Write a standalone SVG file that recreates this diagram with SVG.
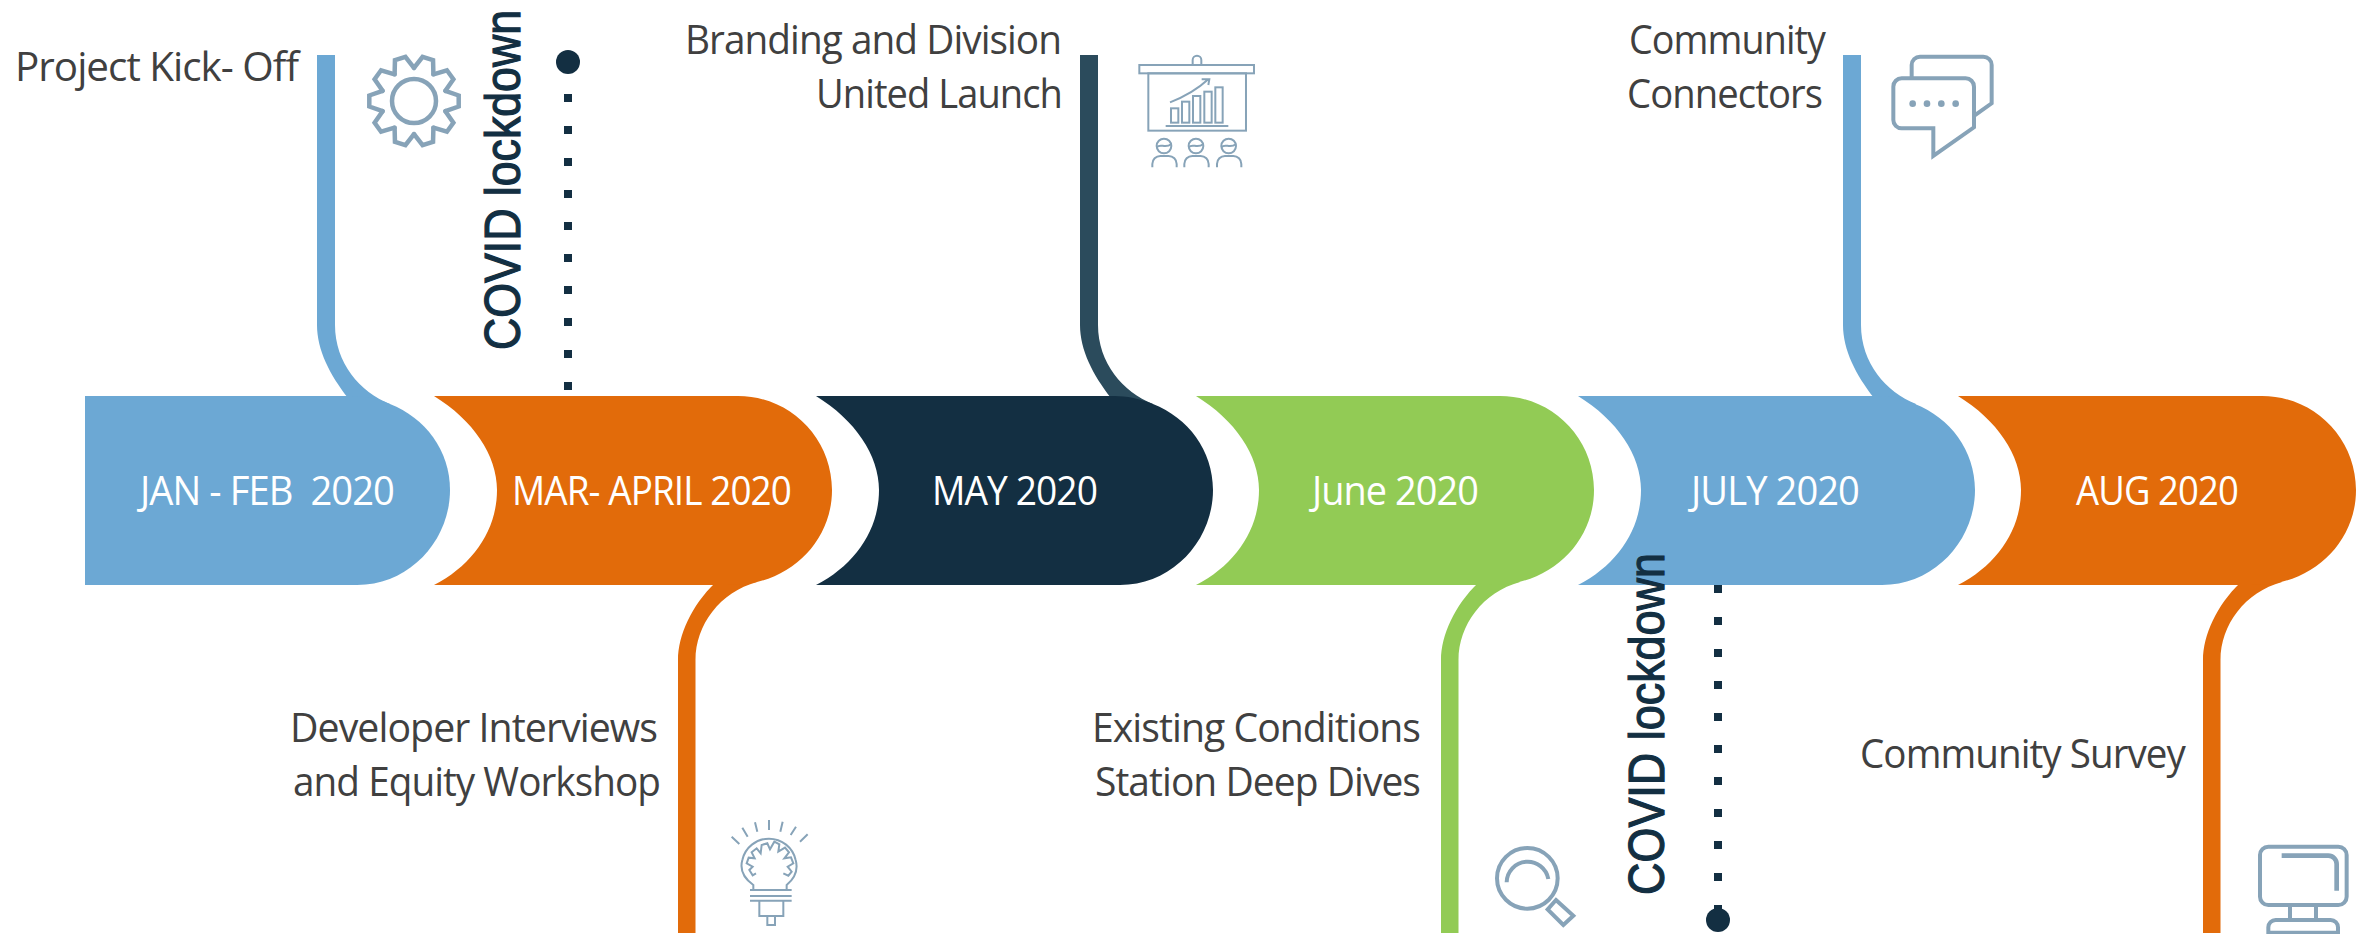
<svg xmlns="http://www.w3.org/2000/svg" width="2369" height="934" viewBox="0 0 2369 934">
<style>
.lbl{font-family:"Open Sans","Liberation Sans",sans-serif;font-size:41px;fill:#404040;white-space:pre;letter-spacing:-1px}
.date{font-family:"Open Sans","Liberation Sans",sans-serif;font-size:41px;fill:#fff;white-space:pre;letter-spacing:-1px}
.cov{font-family:"Liberation Sans",Arial,sans-serif;font-size:50px;fill:#132f42;stroke:#132f42;stroke-width:1.2}
.blue{fill:#6ca8d4}.orange{fill:#e26b0a}.navy{fill:#132f42}.green{fill:#92cb55}.slate{fill:#2b4b5c}
.ic{fill:none;stroke:#87a3b8;stroke-linejoin:miter}
.dots{fill:none;stroke:#132f42;stroke-width:8;stroke-dasharray:8 24}
</style>
<defs>
<path id="stem" d="M348,398C330,375 317,350 317,325V55H335V325C335,363 360,392 390,404L380,420Z"/>
<path id="stemb" d="M715,583C692,605 678,635 678,660V933H695.5V660C695.5,625 720,592 757,582L740,570Z"/>
<path id="topbody" d="M53,396C92,420 116,455 116,490C116,530 92,565 53,585H357C410,585 450,540 450,490C450,450 425,418 390,404C370,396 358,396 348,396Z"/>
<path id="botbody" d="M434,396C473,420 497,455 497,490C497,530 473,565 434,585H716C730,585 742,585 757,582C800,572 832,535 832,490C832,438 790,396 738,396Z"/>
<polyline id="tooth" points="31.4,-10.2 44.7,-5.5 44.7,5.5 31.4,10.2" stroke-linecap="round"/>
</defs>
<g id="connectors">
<use href="#stem" class="blue"/>
<use href="#stem" class="slate" x="763"/>
<use href="#stem" class="blue" x="1526"/>
<use href="#stemb" class="orange"/>
<use href="#stemb" class="green" x="763"/>
<use href="#stemb" class="orange" x="1525"/>
<path class="dots" d="M568,94V394"/>
<path class="dots" d="M1718,585V912"/>
</g>
<g id="node-jan-feb">
<path class="blue" d="M85,396H348C358,396 370,396 390,404C425,418 450,450 450,490C450,540 410,585 357,585H85Z"/>
<text class="date" x="140" y="505" textLength="254" lengthAdjust="spacingAndGlyphs">JAN - FEB  2020</text>
</g>
<g id="node-mar-april">
<use href="#botbody" class="orange"/>
<text class="date" x="512" y="505" textLength="279" lengthAdjust="spacingAndGlyphs">MAR- APRIL 2020</text>
</g>
<g id="node-may">
<use href="#topbody" class="navy" x="763"/>
<text class="date" x="932" y="505" textLength="165" lengthAdjust="spacingAndGlyphs">MAY 2020</text>
</g>
<g id="node-june">
<use href="#botbody" class="green" x="762"/>
<text class="date" x="1312" y="505" textLength="166" lengthAdjust="spacingAndGlyphs">June 2020</text>
</g>
<g id="node-july">
<use href="#topbody" class="blue" x="1525"/>
<text class="date" x="1691" y="505" textLength="168" lengthAdjust="spacingAndGlyphs">JULY 2020</text>
</g>
<g id="node-aug">
<use href="#botbody" class="orange" x="1524"/>
<text class="date" x="2076" y="505" textLength="162" lengthAdjust="spacingAndGlyphs">AUG 2020</text>
</g>
<g id="node-kickoff">
<text class="lbl" x="15" y="81" textLength="283" lengthAdjust="spacingAndGlyphs">Project Kick- Off</text>
<g class="ic" stroke-width="4.5" transform="translate(414,101)">
<use href="#tooth"/><use href="#tooth" transform="rotate(36)"/><use href="#tooth" transform="rotate(72)"/><use href="#tooth" transform="rotate(108)"/><use href="#tooth" transform="rotate(144)"/><use href="#tooth" transform="rotate(180)"/><use href="#tooth" transform="rotate(216)"/><use href="#tooth" transform="rotate(252)"/><use href="#tooth" transform="rotate(288)"/><use href="#tooth" transform="rotate(324)"/>
<circle r="22"/>
</g>
</g>
<g id="node-covid-1">
<text class="cov" x="520" y="350" transform="rotate(-90 520 350)" textLength="340" lengthAdjust="spacingAndGlyphs">COVID lockdown</text>
<circle class="navy" cx="568" cy="62" r="12"/>
</g>
<g id="node-branding">
<text class="lbl" x="685" y="54" textLength="376" lengthAdjust="spacingAndGlyphs">Branding and Division</text>
<text class="lbl" x="816" y="108" textLength="246" lengthAdjust="spacingAndGlyphs">United Launch</text>
<g class="ic" stroke-width="6" transform="translate(1120,40) scale(.3333)">
<rect x="58" y="75" width="344" height="25"/><rect x="85" y="100" width="293" height="172"/>
<path d="M218,75V60a13,13 0 0 1 26,0V75"/>
<rect x="153" y="205" width="22" height="43"/><rect x="186" y="185" width="22" height="63"/><rect x="219" y="168" width="22" height="80"/><rect x="253" y="155" width="22" height="93"/><rect x="286" y="142" width="22" height="106"/>
<path d="M137,258H325M150,187C190,172 230,150 265,118M245,118H268L265,135"/>
<g id="person"><circle cx="132" cy="318" r="22"/><path d="M110,322C122,308 135,328 154,312M97,382V372a24,24 0 0 1 24,-24H146a24,24 0 0 1 24,24V382"/></g>
<use href="#person" x="96"/><use href="#person" x="194"/>
</g>
</g>
<g id="node-connectors">
<text class="lbl" x="1629" y="54" textLength="196" lengthAdjust="spacingAndGlyphs">Community</text>
<text class="lbl" x="1627" y="108" textLength="195" lengthAdjust="spacingAndGlyphs">Connectors</text>
<g class="ic" stroke-width="12" transform="translate(1870,40) scale(.3333)">
<path d="M95,115H287a25,25 0 0 1 25,25V262L190,348V265H95a25,25 0 0 1 -25,-25V140a25,25 0 0 1 25,-25Z"/>
<path d="M125,115V75a25,25 0 0 1 25,-25H340a25,25 0 0 1 25,25V190L312,228"/>
<g fill="#87a3b8" stroke="none"><circle cx="128" cy="191" r="10"/><circle cx="171" cy="191" r="10"/><circle cx="214" cy="191" r="10"/><circle cx="257" cy="191" r="10"/></g>
</g>
</g>
<g id="node-developer">
<text class="lbl" x="290" y="742" textLength="367" lengthAdjust="spacingAndGlyphs">Developer Interviews</text>
<text class="lbl" x="293" y="796" textLength="367" lengthAdjust="spacingAndGlyphs">and Equity Workshop</text>
<g class="ic" stroke-width="6" transform="translate(720,810) scale(.3333)">
<path d="M35,80L58,102M67,53L83,80M105,37L112,65M147,30V60M188,35L181,65M228,50L212,75M263,73L240,95"/>
<path d="M100,240V225C65,200 60,175 67,150A82,82 0 0 1 227,150C234,175 230,200 200,225V240"/>
<path d="M90,240H215M90,258H215M90,272H215M118,272V318H190V272M142,318V345H165V318"/>
<path d="M108,190L98,196L88,180L98,170L80,160L86,143L104,145L95,127L110,115L122,130L125,105L142,100L150,118L163,95L178,103L175,125L195,113L207,127L193,145L213,142L220,160L203,170L215,185L205,197L190,190"/>
</g>
</g>
<g id="node-existing">
<text class="lbl" x="1092" y="742" textLength="328" lengthAdjust="spacingAndGlyphs">Existing Conditions</text>
<text class="lbl" x="1095" y="796" textLength="325" lengthAdjust="spacingAndGlyphs">Station Deep Dives</text>
<g class="ic" stroke-width="12" transform="translate(1480,830) scale(.3333)">
<circle cx="142" cy="145" r="91"/>
<path d="M80,157A63,63 0 0 1 205,147"/>
<path d="M228,210L280,257L250,285L203,238Z"/>
</g>
</g>
<g id="node-covid-2">
<text class="cov" x="1664" y="895" transform="rotate(-90 1664 895)" textLength="342" lengthAdjust="spacingAndGlyphs">COVID lockdown</text>
<circle class="navy" cx="1718" cy="920" r="12"/>
</g>
<g id="node-survey">
<text class="lbl" x="1860" y="768" textLength="325" lengthAdjust="spacingAndGlyphs">Community Survey</text>
<g class="ic" stroke-width="12" transform="translate(2240,830) scale(.3333)">
<rect x="60" y="50" width="260" height="175" rx="25"/>
<path d="M125,77H265a25,25 0 0 1 25,25V182" stroke-width="14"/>
<path d="M150,225V265M228,225V265"/>
<path d="M85,308V292a22,22 0 0 1 22,-22H272a22,22 0 0 1 22,22V308Z"/>
</g>
</g>
</svg>
